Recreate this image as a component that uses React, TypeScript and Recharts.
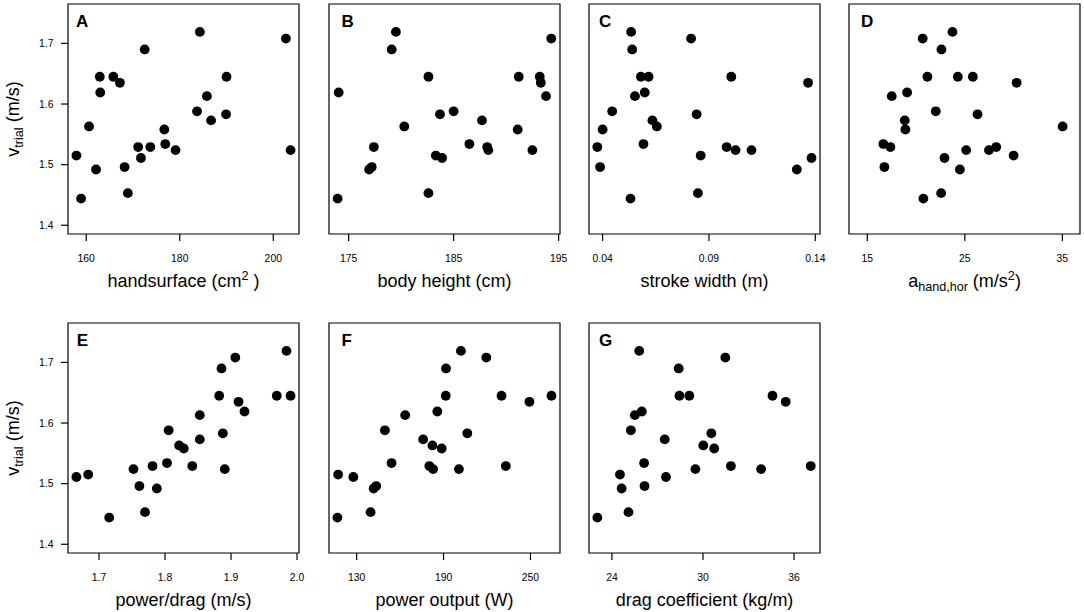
import React from 'react'
import { ScatterChart, Scatter, XAxis, YAxis, ReferenceArea } from 'recharts'

// swimming velocity in the trial, one value per swimmer (same order in every panel)
const vTrial = [
  1.719, 1.708, 1.69, 1.645, 1.645, 1.645, 1.635, 1.619, 1.613, 1.588, 1.583, 1.573, 1.563,
  1.558, 1.534, 1.529, 1.529, 1.524, 1.524, 1.515, 1.511, 1.496, 1.492, 1.453, 1.444
]
const vTicks = ['1.4', '1.5', '1.6', '1.7']

const handSurface = [
  184.3, 202.7, 172.5, 162.9, 165.8, 190.0, 167.2, 163.0, 185.8, 183.7, 189.9, 186.7, 160.6,
  176.7, 176.9, 171.1, 173.7, 179.1, 203.7, 157.9, 171.7, 168.2, 162.1, 168.9, 158.9
]
const bodyHeight = [
  179.5, 194.3, 179.1, 182.6, 191.2, 193.2, 193.3, 174.05, 193.8, 185.0, 183.7, 187.7, 180.3,
  191.1, 186.5, 177.4, 188.2, 188.3, 192.5, 183.3, 183.9, 177.2, 176.95, 182.6, 173.95
]
const strokeWidth = [
  0.0534, 0.0816, 0.0539, 0.058, 0.0616, 0.1005, 0.1366, 0.0598, 0.0552, 0.0445, 0.0842, 0.0634,
  0.0655, 0.04, 0.0592, 0.0375, 0.0983, 0.1025, 0.11, 0.0861, 0.1382, 0.0388, 0.1313, 0.0848, 0.0531
]
const handAcc = [
  23.73, 20.68, 22.6, 21.16, 24.28, 25.82, 30.31, 19.08, 17.5, 22.02, 26.3, 18.84, 35.03,
  18.9, 16.64, 17.36, 28.22, 25.14, 27.47, 30.0, 22.91, 16.75, 24.49, 22.57, 20.75
]
const powerDrag = [
  1.984, 1.9065, 1.8856, 1.8821, 1.9693, 1.9902, 1.9114, 1.9204, 1.8527, 1.8055, 1.8876, 1.8527,
  1.8214, 1.8284, 1.803, 1.7811, 1.8413, 1.7522, 1.8905, 1.6836, 1.6657, 1.7612, 1.7876, 1.7697, 1.7154
]
const powerOutput = [
  202.0, 219.5, 191.7, 191.5, 230.0, 264.5, 249.3, 185.7, 163.5, 149.5, 206.4, 175.9, 182.3,
  188.7, 154.1, 180.2, 233.0, 182.8, 200.6, 117.2, 127.7, 143.5, 141.7, 139.6, 116.7
]
const dragCoef = [
  25.8, 31.47, 28.4, 28.45, 29.1, 34.58, 35.45, 25.97, 25.51, 25.25, 30.55, 27.48, 30.02,
  30.74, 26.12, 31.84, 37.1, 29.5, 33.83, 24.53, 27.56, 26.15, 24.64, 25.09, 23.04
]

const FONT = "'Liberation Sans', Arial, Helvetica, sans-serif"
const RIGHT_PAD = 20
const PLOT_L = 68
const PLOT_T = 4
const PLOT_W = 231
const PLOT_H = 230
const CHART_W = PLOT_L + PLOT_W + RIGHT_PAD
const CHART_H = 294
const Y_DOMAIN: [number, number] = [1.3856, 1.765]

type Part = { t: string; sup?: boolean; sub?: boolean }

const panels = [
  { letter: 'A', xs: handSurface, domain: [156.1, 205.5], ticks: ['160', '180', '200'],
    title: [{ t: 'handsurface (cm' }, { t: '2', sup: true }, { t: ' )' }] as Part[],
    left: 0, top: 0, lx: 8, first: true },
  { letter: 'B', xs: bodyHeight, domain: [173.13, 195.13], ticks: ['175', '185', '195'],
    title: [{ t: 'body height (cm)' }] as Part[], left: 261.3, top: 0, lx: 12.4 },
  { letter: 'C', xs: strokeWidth, domain: [0.0336, 0.1422], ticks: ['0.04', '0.09', '0.14'],
    title: [{ t: 'stroke width (m)' }] as Part[], left: 521, top: 0, lx: 10 },
  { letter: 'D', xs: handAcc, domain: [13.12, 36.81], ticks: ['15', '25', '35'],
    title: [{ t: 'a' }, { t: 'hand,hor', sub: true }, { t: ' (m/s' }, { t: '2', sup: true }, { t: ')' }] as Part[],
    left: 780.7, top: 0, lx: 12 },
  { letter: 'E', xs: powerDrag, domain: [1.653, 2.003], ticks: ['1.7', '1.8', '1.9', '2.0'],
    title: [{ t: 'power/drag (m/s)' }] as Part[], left: 0, top: 319, lx: 8.7, first: true },
  { letter: 'F', xs: powerOutput, domain: [110.9, 270.4], ticks: ['130', '190', '250'],
    title: [{ t: 'power output (W)' }] as Part[], left: 261.3, top: 319, lx: 12.4 },
  { letter: 'G', xs: dragCoef, domain: [22.49, 37.71], ticks: ['24', '30', '36'],
    title: [{ t: 'drag coefficient (kg/m)' }] as Part[], left: 521, top: 319, lx: 10 }
]

const renderParts = (parts: Part[], size: number) => {
  let shift = 0
  return parts.map((p, i) => {
    const target = p.sup ? -7 : p.sub ? 4 : 0
    const dy = target - shift
    shift = target
    return (
      <tspan key={i} dy={dy} fontSize={p.sup || p.sub ? size * 0.7 : size}>
        {p.t}
      </tspan>
    )
  })
}

const XTitle = ({ parts }: { parts: Part[] }) => (
  <text x={PLOT_L + PLOT_W / 2} y={PLOT_T + PLOT_H + 52.5} textAnchor="middle"
    fontFamily={FONT} fontSize={18} fill="#000">
    {renderParts(parts, 18)}
  </text>
)

const YTitle = () => {
  const cx = 19
  const cy = PLOT_T + PLOT_H / 2
  return (
    <text x={cx} y={cy} transform={`rotate(-90 ${cx} ${cy})`} textAnchor="middle"
      fontFamily={FONT} fontSize={18} fill="#000">
      {renderParts([{ t: 'v' }, { t: 'trial', sub: true }, { t: ' (m/s)' }], 18)}
    </text>
  )
}

const Dot = (props: any) => <circle cx={props.cx} cy={props.cy} r={4.9} fill="#000" />

const Panel = ({ p }: { p: typeof panels[number] }) => {
  const data = p.xs.map((x, i) => ({ x, y: vTrial[i] }))
  const xTicks = p.ticks.map(Number)
  const renderXTick = (t: any) => (
    <text x={t.x} y={PLOT_T + PLOT_H + 27.5} textAnchor="middle" fontFamily={FONT}
      fontSize={10.4} fill="#000">
      {p.ticks[t.index]}
    </text>
  )
  const renderYTick = (t: any) => (
    <text x={PLOT_L - 14.5} y={t.y + 3.7} textAnchor="end" fontFamily={FONT}
      fontSize={10.4} fill="#000">
      {vTicks[t.index]}
    </text>
  )
  return (
    <div style={{ position: 'absolute', left: p.left, top: p.top }}>
      <ScatterChart width={CHART_W} height={CHART_H}
        margin={{ top: PLOT_T, right: RIGHT_PAD, bottom: 0, left: 0 }}>
        <XAxis type="number" dataKey="x" domain={p.domain} ticks={xTicks} interval={0}
          allowDataOverflow axisLine={false} tickSize={7}
          tickLine={{ stroke: '#000', strokeWidth: 1.2 }} tick={renderXTick} height={60}
          label={<XTitle parts={p.title} />} />
        {p.first ? (
          <YAxis type="number" dataKey="y" domain={Y_DOMAIN} ticks={vTicks.map(Number)} interval={0}
            allowDataOverflow axisLine={false} tickSize={7}
            tickLine={{ stroke: '#000', strokeWidth: 1.2 }} tick={renderYTick} width={PLOT_L}
            label={<YTitle />} />
        ) : (
          <YAxis type="number" dataKey="y" domain={Y_DOMAIN} allowDataOverflow axisLine={false}
            tick={false} tickLine={false} width={PLOT_L} />
        )}
        <ReferenceArea x1={p.domain[0]} x2={p.domain[1]} y1={Y_DOMAIN[0]} y2={Y_DOMAIN[1]}
          fill="none" stroke="#000" strokeWidth={1.2} ifOverflow="visible" />
        <Scatter data={data} shape={Dot} isAnimationActive={false} />
        <ReferenceArea x1={p.domain[0]} x2={p.domain[1]} y1={Y_DOMAIN[0]} y2={Y_DOMAIN[1]}
          fill="none" stroke="none" ifOverflow="visible"
          label={{ value: p.letter, position: 'insideTopLeft', offset: 0,
            content: () => (
              <text x={PLOT_L + p.lx} y={PLOT_T + 23} fontFamily={FONT} fontSize={17}
                fontWeight="bold" fill="#000">{p.letter}</text>
            ) }} />
      </ScatterChart>
    </div>
  )
}

export default function App() {
  return (
    <div style={{ position: 'absolute', left: 0, top: 0, width: 1084, height: 612, background: '#fff' }}>
      {panels.map(p => <Panel key={p.letter} p={p} />)}
    </div>
  )
}
